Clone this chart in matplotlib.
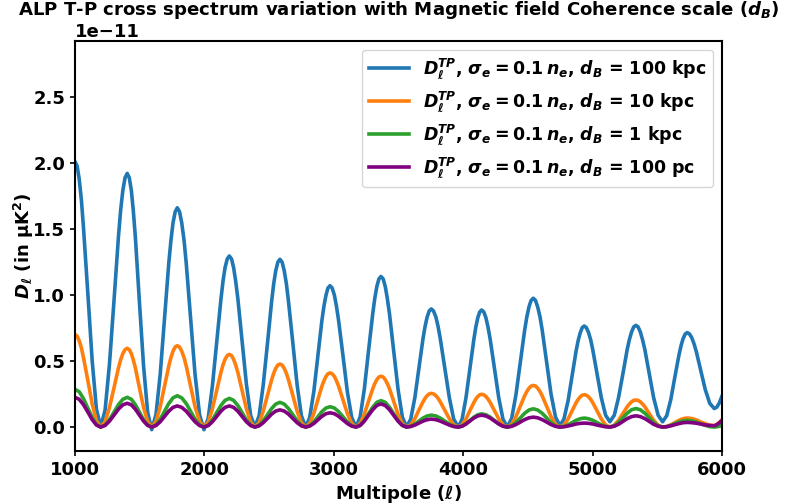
import matplotlib
matplotlib.use("Agg")
import matplotlib.pyplot as plt
import numpy as np

plt.rcParams['font.family'] = ['DejaVu Sans']
plt.rcParams['font.weight'] = 'bold'
plt.rcParams['axes.labelweight'] = 'bold'
plt.rcParams['axes.titleweight'] = 'bold'
plt.rcParams['mathtext.fontset'] = 'dejavusans'

scale = 1e-11

# Multipole sample points (one row per half oscillation)
ell = [1000,
       1033, 1066, 1100, 1133, 1166, 1199,
       1233, 1267, 1302, 1336, 1370, 1404,
       1436, 1467, 1498, 1530, 1562, 1593,
       1626, 1659, 1692, 1725, 1758, 1791,
       1825, 1860, 1894, 1928, 1963, 1997,
       2030, 2062, 2095, 2128, 2160, 2193,
       2226, 2259, 2292, 2325, 2358, 2391,
       2423, 2455, 2488, 2520, 2552, 2584,
       2617, 2650, 2684, 2717, 2750, 2783,
       2814, 2846, 2877, 2908, 2940, 2971,
       3005, 3038, 3072, 3105, 3139, 3172,
       3204, 3236, 3268, 3301, 3333, 3365,
       3398, 3431, 3464, 3497, 3530, 3563,
       3595, 3627, 3658, 3690, 3722, 3754,
       3789, 3823, 3858, 3893, 3927, 3962,
       3992, 4022, 4052, 4083, 4113, 4143,
       4176, 4209, 4242, 4275, 4308, 4341,
       4375, 4408, 4442, 4475, 4509, 4542,
       4576, 4611, 4645, 4679, 4714, 4748,
       4779, 4811, 4842, 4873, 4905, 4936,
       4969, 5002, 5035, 5068, 5101, 5134,
       5168, 5201, 5235, 5268, 5302, 5335,
       5369, 5404, 5438, 5472, 5507, 5541,
       5573, 5605, 5636, 5668, 5700, 5732,
       5767, 5802, 5836, 5871, 5906, 5941,
       5961, 5980, 6000]

# Finer sampling (extra points around the peaks) for the two large curves
ell_fine = [1000,
            1017, 1033, 1050, 1066, 1100, 1133, 1166, 1199,
            1233, 1267, 1302, 1336, 1353, 1370, 1387, 1404,
            1420, 1436, 1451, 1467, 1498, 1530, 1562, 1593,
            1626, 1659, 1692, 1725, 1742, 1758, 1775, 1791,
            1808, 1825, 1843, 1860, 1894, 1928, 1963, 1997,
            2030, 2062, 2095, 2128, 2144, 2160, 2177, 2193,
            2210, 2226, 2242, 2259, 2292, 2325, 2358, 2391,
            2423, 2455, 2488, 2520, 2536, 2552, 2568, 2584,
            2601, 2617, 2634, 2650, 2684, 2717, 2750, 2783,
            2814, 2846, 2877, 2908, 2924, 2940, 2955, 2971,
            2988, 3005, 3021, 3038, 3072, 3105, 3139, 3172,
            3204, 3236, 3268, 3301, 3317, 3333, 3349, 3365,
            3382, 3398, 3414, 3431, 3464, 3497, 3530, 3563,
            3595, 3627, 3658, 3690, 3706, 3722, 3738, 3754,
            3771, 3789, 3806, 3823, 3858, 3893, 3927, 3962,
            3992, 4022, 4052, 4083, 4098, 4113, 4128, 4143,
            4160, 4176, 4192, 4209, 4242, 4275, 4308, 4341,
            4375, 4408, 4442, 4475, 4492, 4509, 4525, 4542,
            4559, 4576, 4594, 4611, 4645, 4679, 4714, 4748,
            4779, 4811, 4842, 4873, 4889, 4905, 4920, 4936,
            4952, 4969, 4986, 5002, 5035, 5068, 5101, 5134,
            5168, 5201, 5235, 5268, 5285, 5302, 5318, 5335,
            5352, 5369, 5386, 5404, 5438, 5472, 5507, 5541,
            5573, 5605, 5636, 5668, 5684, 5700, 5716, 5732,
            5749, 5767, 5784, 5802, 5836, 5871, 5906, 5941,
            5961, 5980, 6000]

# D_ell^TP in units of 1e-11 muK^2
d_100kpc = [2.01,
            1.976, 1.875, 1.717, 1.508, 1.005, 0.503, 0.135, 0.0,
            0.129, 0.48, 0.96, 1.44, 1.64, 1.791, 1.887, 1.92,
            1.887, 1.79, 1.637, 1.435, 0.95, 0.465, 0.11, -0.02,
            0.093, 0.40, 0.82, 1.24, 1.415, 1.547, 1.631, 1.66,
            1.631, 1.547, 1.415, 1.24, 0.82, 0.40, 0.093, -0.02,
            0.068, 0.309, 0.638, 0.966, 1.103, 1.207, 1.273, 1.295,
            1.273, 1.208, 1.106, 0.971, 0.648, 0.324, 0.087, 0.0,
            0.085, 0.318, 0.635, 0.953, 1.085, 1.185, 1.248, 1.27,
            1.248, 1.185, 1.085, 0.953, 0.635, 0.318, 0.085, 0.0,
            0.072, 0.268, 0.535, 0.803, 0.914, 0.998, 1.052, 1.07,
            1.052, 0.998, 0.914, 0.803, 0.535, 0.268, 0.072, 0.0,
            0.076, 0.285, 0.57, 0.855, 0.974, 1.064, 1.121, 1.14,
            1.121, 1.064, 0.974, 0.855, 0.57, 0.285, 0.076, 0.0,
            0.06, 0.224, 0.447, 0.671, 0.763, 0.834, 0.879, 0.894,
            0.879, 0.834, 0.763, 0.671, 0.447, 0.224, 0.06, 0.0,
            0.059, 0.222, 0.443, 0.665, 0.757, 0.827, 0.871, 0.886,
            0.871, 0.827, 0.757, 0.665, 0.443, 0.222, 0.059, 0.0,
            0.065, 0.244, 0.488, 0.731, 0.833, 0.91, 0.958, 0.975,
            0.959, 0.91, 0.834, 0.734, 0.493, 0.251, 0.075, 0.01,
            0.061, 0.199, 0.388, 0.576, 0.655, 0.714, 0.752, 0.765,
            0.753, 0.716, 0.659, 0.584, 0.403, 0.221, 0.089, 0.04,
            0.089, 0.223, 0.405, 0.588, 0.663, 0.721, 0.758, 0.77,
            0.758, 0.721, 0.663, 0.588, 0.405, 0.223, 0.089, 0.04,
            0.085, 0.209, 0.378, 0.546, 0.616, 0.67, 0.704, 0.715,
            0.705, 0.676, 0.631, 0.571, 0.428, 0.284, 0.179, 0.14,
            0.151, 0.183, 0.233]

d_10kpc = [0.70,
           0.688, 0.653, 0.598, 0.525, 0.35, 0.175, 0.047, 0.0,
           0.040, 0.149, 0.298, 0.447, 0.509, 0.556, 0.586, 0.596,
           0.586, 0.556, 0.509, 0.447, 0.298, 0.149, 0.040, 0.0,
           0.041, 0.154, 0.308, 0.462, 0.526, 0.575, 0.606, 0.616,
           0.606, 0.575, 0.526, 0.462, 0.308, 0.154, 0.041, 0.0,
           0.037, 0.138, 0.275, 0.413, 0.47, 0.513, 0.541, 0.55,
           0.541, 0.513, 0.47, 0.413, 0.275, 0.138, 0.037, 0.0,
           0.032, 0.119, 0.239, 0.358, 0.407, 0.445, 0.469, 0.477,
           0.469, 0.445, 0.407, 0.358, 0.239, 0.119, 0.032, 0.0,
           0.027, 0.103, 0.205, 0.308, 0.35, 0.383, 0.403, 0.41,
           0.403, 0.383, 0.35, 0.308, 0.205, 0.103, 0.027, 0.0,
           0.026, 0.096, 0.193, 0.289, 0.329, 0.359, 0.378, 0.385,
           0.378, 0.359, 0.329, 0.289, 0.193, 0.096, 0.026, 0.0,
           0.017, 0.064, 0.128, 0.191, 0.218, 0.238, 0.251, 0.255,
           0.251, 0.238, 0.218, 0.191, 0.128, 0.064, 0.017, 0.0,
           0.017, 0.062, 0.124, 0.186, 0.212, 0.231, 0.244, 0.248,
           0.244, 0.231, 0.212, 0.186, 0.124, 0.062, 0.017, 0.0,
           0.021, 0.079, 0.158, 0.236, 0.269, 0.294, 0.31, 0.315,
           0.31, 0.294, 0.269, 0.236, 0.158, 0.079, 0.021, 0.0,
           0.016, 0.061, 0.123, 0.184, 0.209, 0.229, 0.241, 0.245,
           0.241, 0.229, 0.209, 0.184, 0.123, 0.061, 0.016, 0.0,
           0.014, 0.051, 0.103, 0.154, 0.175, 0.191, 0.202, 0.205,
           0.202, 0.191, 0.175, 0.154, 0.103, 0.051, 0.014, 0.0,
           0.005, 0.017, 0.034, 0.051, 0.058, 0.063, 0.067, 0.068,
           0.067, 0.064, 0.06, 0.054, 0.039, 0.025, 0.014, 0.01,
           0.02, 0.035, 0.055]

d_1kpc = [0.286,
          0.267, 0.215, 0.143, 0.072, 0.019, 0.0,
          0.015, 0.056, 0.113, 0.169, 0.210, 0.225,
          0.210, 0.169, 0.113, 0.056, 0.015, 0.0,
          0.016, 0.059, 0.119, 0.178, 0.221, 0.237,
          0.221, 0.178, 0.119, 0.059, 0.016, 0.0,
          0.015, 0.054, 0.109, 0.163, 0.202, 0.217,
          0.202, 0.163, 0.109, 0.054, 0.015, 0.0,
          0.013, 0.047, 0.094, 0.140, 0.174, 0.187,
          0.174, 0.140, 0.094, 0.047, 0.013, 0.0,
          0.010, 0.039, 0.077, 0.116, 0.144, 0.154,
          0.144, 0.116, 0.077, 0.039, 0.010, 0.0,
          0.013, 0.05, 0.1, 0.15, 0.187, 0.2,
          0.187, 0.15, 0.1, 0.05, 0.013, 0.0,
          0.006, 0.023, 0.045, 0.068, 0.084, 0.09,
          0.084, 0.068, 0.045, 0.023, 0.006, 0.0,
          0.007, 0.025, 0.05, 0.075, 0.093, 0.10,
          0.093, 0.075, 0.05, 0.025, 0.007, 0.0,
          0.009, 0.035, 0.069, 0.104, 0.129, 0.138,
          0.129, 0.104, 0.069, 0.035, 0.009, 0.0,
          0.005, 0.017, 0.034, 0.051, 0.063, 0.068,
          0.063, 0.051, 0.034, 0.017, 0.005, 0.0,
          0.009, 0.035, 0.07, 0.105, 0.131, 0.14,
          0.131, 0.105, 0.07, 0.035, 0.009, 0.0,
          0.003, 0.013, 0.025, 0.038, 0.047, 0.05,
          0.047, 0.038, 0.025, 0.013, 0.003, 0.0,
          0.002, 0.006, 0.012]

d_100pc = [0.225,
           0.210, 0.169, 0.113, 0.056, 0.015, 0.0,
           0.012, 0.045, 0.09, 0.135, 0.168, 0.18,
           0.168, 0.135, 0.09, 0.045, 0.012, 0.0,
           0.011, 0.04, 0.08, 0.12, 0.149, 0.16,
           0.149, 0.12, 0.08, 0.04, 0.011, 0.0,
           0.011, 0.04, 0.08, 0.12, 0.149, 0.16,
           0.149, 0.12, 0.08, 0.04, 0.011, 0.0,
           0.009, 0.033, 0.065, 0.098, 0.121, 0.13,
           0.121, 0.098, 0.065, 0.033, 0.009, 0.0,
           0.007, 0.027, 0.054, 0.081, 0.101, 0.108,
           0.101, 0.081, 0.054, 0.027, 0.007, 0.0,
           0.012, 0.044, 0.088, 0.131, 0.163, 0.175,
           0.163, 0.131, 0.088, 0.044, 0.012, 0.0,
           0.004, 0.015, 0.03, 0.045, 0.056, 0.06,
           0.056, 0.045, 0.03, 0.015, 0.004, 0.0,
           0.006, 0.023, 0.045, 0.068, 0.084, 0.09,
           0.084, 0.068, 0.045, 0.023, 0.006, 0.0,
           0.005, 0.019, 0.038, 0.056, 0.07, 0.075,
           0.07, 0.056, 0.038, 0.019, 0.005, 0.0,
           0.002, 0.008, 0.015, 0.023, 0.028, 0.03,
           0.028, 0.023, 0.015, 0.008, 0.002, 0.0,
           0.006, 0.021, 0.043, 0.064, 0.079, 0.085,
           0.079, 0.064, 0.043, 0.021, 0.006, 0.0,
           0.002, 0.009, 0.018, 0.026, 0.033, 0.035,
           0.033, 0.029, 0.023, 0.016, 0.012, 0.01,
           0.018, 0.032, 0.05]

series_x = [ell_fine, ell_fine, ell, ell]
series_values = [d_100kpc, d_10kpc, d_1kpc, d_100pc]
coherence_labels = ['100 kpc', '10 kpc', '1 kpc', '100 pc']
colors = ['#1f77b4', '#ff7f0e', '#2ca02c', 'purple']

x_ticks = [1000, 2000, 3000, 4000, 5000, 6000]
y_ticks = [0.0, 0.5, 1.0, 1.5, 2.0, 2.5]

fig = plt.figure(figsize=(7.89, 5.04), dpi=100)
ax = fig.add_axes([0.095, 0.105, 0.82, 0.814])

for xs, vals, lab, col in zip(series_x, series_values, coherence_labels, colors):
    label = (r'$\mathbfit{D}_{\mathbfit{\ell}}^{\mathbfit{TP}}$, '
             r'$\mathbfit{\sigma}_{\mathbfit{e}}=\mathbf{0.1}\,\mathbfit{n}_{\mathbfit{e}}$, '
             r'$\mathbfit{d}_{\mathbfit{B}}$ = ' + lab)
    ax.plot(xs, np.array(vals) * scale, color=col, lw=2.6, label=label,
            solid_joinstyle='round')

ax.set_xlim(1000, 6000)
ax.set_ylim(-0.182 * scale, 2.924 * scale)
ax.set_xticks(x_ticks)
ax.set_yticks(np.array(y_ticks) * scale)
ax.tick_params(labelsize=13, width=1.2)
for t in ax.get_xticklabels() + ax.get_yticklabels():
    t.set_fontweight('bold')
ax.yaxis.get_offset_text().set_fontsize(13)
ax.yaxis.get_offset_text().set_fontweight('bold')
for s in ax.spines.values():
    s.set_linewidth(1.5)

ax.set_xlabel(r'Multipole ($\mathbfit{\ell}$)', fontsize=13, labelpad=3)
ax.set_ylabel(r'$\mathbfit{D}_{\mathbfit{\ell}}$ (in μK$^\mathbf{2}$)', fontsize=13, labelpad=-2)
ax.set_title(r'ALP T-P cross spectrum variation with Magnetic field Coherence scale ($\mathbfit{d}_{\mathbfit{B}}$)',
             fontsize=13.1, y=1.062, pad=0)
ax.legend(loc='upper right', fontsize=12.5, handlelength=2.3)

fig.savefig('out.png', dpi=100)
